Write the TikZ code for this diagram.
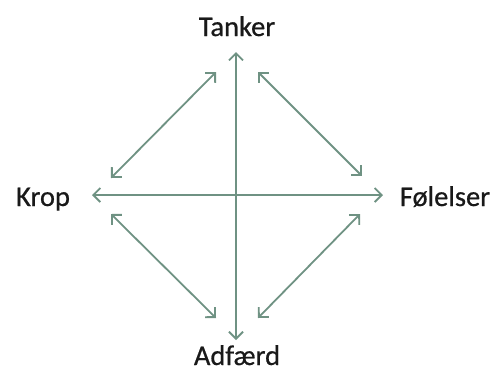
\documentclass[tikz,border=0pt]{standalone}
\usepackage{fontspec}
\setmainfont{Carlito}
\newfontfamily\lblfont{Carlito}[FakeBold=0.6]
\usetikzlibrary{arrows.meta}
\definecolor{arr}{HTML}{6F9283}
\begin{document}
\begin{tikzpicture}[x=1pt,y=-1pt,
  lbl/.style={font=\lblfont\fontsize{28.5}{32}\selectfont, text=black!90, inner sep=0pt, anchor=base},
  con/.style={draw=arr, line width=1.8pt, {Straight Barb[length=7pt,width=14pt]}-{Straight Barb[length=7pt,width=14pt]}}]
\useasboundingbox (0,0) rectangle (501,381);
\node[lbl] (T) at (237,36) {Tanker};
\node[lbl] (K) at (43,206) {Krop};
\node[lbl] (F) at (445,206) {Følelser};
\node[lbl] (A) at (237,365) {Adfærd};
\coordinate (vt) at (236,52);
\coordinate (vb) at (236,340);
\coordinate (hl) at (92,195);
\coordinate (hr) at (383,195);
\draw[con] (vt) -- (vb);
\draw[con] (hl) -- (hr);
\coordinate (a1) at (216,72); \coordinate (a2) at (111,178);
\coordinate (b1) at (258,72); \coordinate (b2) at (362,176);
\coordinate (c1) at (111,214); \coordinate (c2) at (216,318);
\coordinate (d1) at (360,214); \coordinate (d2) at (258,318);
\draw[con] (a1) -- (a2);
\draw[con] (b1) -- (b2);
\draw[con] (c1) -- (c2);
\draw[con] (d1) -- (d2);
\end{tikzpicture}
\end{document}
